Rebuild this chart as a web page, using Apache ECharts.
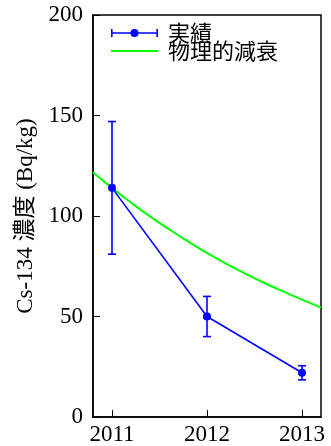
<!DOCTYPE html>
<html>
<head>
<meta charset="utf-8">
<script src="https://cdn.jsdelivr.net/npm/echarts@6/dist/echarts.min.js"></script>
<style>html,body{margin:0;padding:0;background:#fff}#c{width:331px;height:446px}</style>
</head>
<body>
<div id="c"></div>
<script>
// Measured data (実績) with error bars
const years = [2011, 2012, 2013];
const measured = [114, 50, 22];
const errLow = [81, 40, 18.5];
const errHigh = [147, 60, 25.5];
// Physical decay curve
const decayYears = [2010.8, 2011.0, 2011.2, 2011.4, 2011.6, 2011.8, 2012.0, 2012.2, 2012.4, 2012.6, 2012.8, 2013.0, 2013.2];
const decayValues = [121.8, 114, 106.7, 99.8, 93.4, 87.4, 81.6, 76.3, 71.4, 66.8, 62.5, 58.4, 54.5];
const xTicks = [2011, 2012, 2013];
const seriesNames = ['実績', '物理的減衰'];
const yAxisName = 'Cs-134 濃度 (Bq/kg)';

const chart = echarts.init(document.getElementById('c'), null, {renderer: 'canvas'});
const serif = 'Liberation Serif, "Noto Sans CJK JP", serif';
const errIcon = 'path://M0,1h1.6v3.2h19v1.6h-19v3.2h-1.6z M19.5,5a4,4 0 1,1 8,0a4,4 0 1,1 -8,0z M26.4,4.2h19v-3.2h1.6v8h-1.6v-3.2h-19z';

chart.setOption({
  animation: false,
  backgroundColor: '#fff',
  grid: {left: 93, right: 10, top: 15, bottom: 28, show: true, borderColor: '#000', borderWidth: 1.5, containLabel: false},
  legend: {
    orient: 'vertical', left: 111, top: 22, padding: 0, itemWidth: 47, itemHeight: 10, itemGap: -4,
    textStyle: {fontSize: 22, fontFamily: '"Noto Sans CJK JP", sans-serif', color: '#000', lineHeight: 20, padding: [0, 0, 0, 5]},
    data: [{name: seriesNames[0], icon: errIcon}, {name: seriesNames[1], icon: 'path://M0,0h47v1.8h-47z'}]
  },
  xAxis: {
    type: 'value', min: 2010.8, max: 2013.2,
    axisLine: {show: true, lineStyle: {color: '#000', width: 1.5}},
    axisTick: {show: true, inside: true, length: 7, lineStyle: {color: '#000', width: 1}, customValues: xTicks},
    axisLabel: {fontSize: 23, fontFamily: serif, color: '#000', margin: 6, customValues: xTicks, formatter: v => String(v)},
    splitLine: {show: false}
  },
  yAxis: {
    type: 'value', min: 0, max: 200, interval: 50,
    name: yAxisName, nameLocation: 'middle', nameGap: 54,
    nameTextStyle: {fontSize: 23, fontFamily: serif, color: '#000'},
    axisLine: {show: true, lineStyle: {color: '#000', width: 1.5}},
    axisTick: {show: true, inside: true, length: 7, lineStyle: {color: '#000', width: 1}},
    axisLabel: {fontSize: 23, fontFamily: serif, color: '#000', margin: 10},
    splitLine: {show: false}
  },
  series: [
    {
      name: seriesNames[1], type: 'line', smooth: true, showSymbol: false, symbol: 'none',
      data: decayYears.map((y, i) => [y, decayValues[i]]),
      lineStyle: {color: '#00ff00', width: 2}, itemStyle: {color: '#00ff00'}, z: 2
    },
    {
      name: seriesNames[0], type: 'line',
      data: years.map((y, i) => [y, measured[i]]),
      symbol: 'circle', symbolSize: 8,
      lineStyle: {color: '#0000ff', width: 1.6}, itemStyle: {color: '#0000ff'}, z: 3
    },
    {
      name: 'err', type: 'custom', z: 3,
      data: years.map((y, i) => [y, errLow[i], errHigh[i]]),
      renderItem: function (params, api) {
        const x = api.value(0);
        const lo = api.coord([x, api.value(1)]);
        const hi = api.coord([x, api.value(2)]);
        const hw = 4;
        const st = {stroke: '#0000ff', lineWidth: 1.6};
        return {type: 'group', children: [
          {type: 'line', shape: {x1: lo[0], y1: lo[1], x2: hi[0], y2: hi[1]}, style: st},
          {type: 'line', shape: {x1: lo[0] - hw, y1: lo[1], x2: lo[0] + hw, y2: lo[1]}, style: st},
          {type: 'line', shape: {x1: hi[0] - hw, y1: hi[1], x2: hi[0] + hw, y2: hi[1]}, style: st}
        ]};
      }
    }
  ]
});
</script>
</body>
</html>
